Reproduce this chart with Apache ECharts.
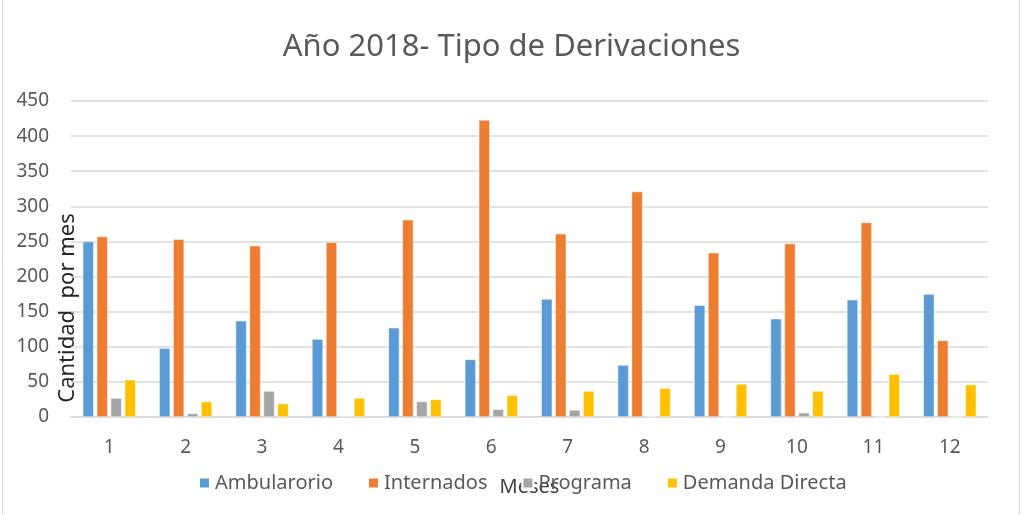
<!DOCTYPE html>
<html>
<head>
<meta charset="utf-8">
<script src="https://cdn.jsdelivr.net/npm/echarts@6/dist/echarts.min.js"></script>
<style>
html,body{margin:0;padding:0;background:#fff;}
#chart{width:1023px;height:515px;}
</style>
</head>
<body>
<div id="chart"></div>
<script>
// datos
var meses = ['1','2','3','4','5','6','7','8','9','10','11','12'];
var ambulatorio = [250, 98, 137, 111, 127, 82, 168, 74, 159, 140, 167, 175];
var internados = [257, 253, 244, 249, 281, 423, 261, 321, 234, 247, 277, 109];
var programa = [27, 5, 37, 1, 22, 11, 10, 1, 0, 6, 0, 0];
var demanda = [53, 22, 19, 27, 25, 31, 37, 41, 47, 37, 61, 46];
var nombres = ['Ambularorio', 'Internados', 'Programa', 'Demanda Directa'];

var myChart = echarts.init(document.getElementById('chart'));
var colors = ['#5b9bd5', '#ed7d31', '#a5a5a5', '#ffc000'];
var fuente = 'Noto Sans';

function serie(nombre, datos){
	return {
		name: nombre,
		type: 'bar',
		data: datos,
		barWidth: 11,
		barGap: '27%',
		itemStyle: {borderColor: '#fff', borderWidth: 0.5}
	};
}

option = {
	color: colors,
	animation: false,
	textStyle: {fontFamily: fuente},
	title: {
		text: 'Año 2018- Tipo de Derivaciones',
		left: 'center',
		top: 27,
		textStyle: {fontFamily: fuente, fontSize: 31, fontWeight: 'normal', color: '#595959'}
	},
	legend: {
		data: nombres,
		left: 193,
		top: 468,
		itemWidth: 11,
		itemHeight: 11,
		itemGap: 34,
		icon: 'rect',
		textStyle: {fontFamily: fuente, fontSize: 20, color: '#595959'}
	},
	grid: {left: 71, right: 35, top: 101, bottom: 98},
	xAxis: {
		type: 'category',
		data: meses,
		name: 'Meses',
		nameLocation: 'middle',
		nameGap: 60,
		nameTextStyle: {fontFamily: fuente, fontSize: 20, color: '#404040'},
		axisLine: {lineStyle: {color: '#d9d9d9', width: 1.5}},
		axisTick: {show: false},
		axisLabel: {fontSize: 19, color: '#595959', margin: 21}
	},
	yAxis: {
		type: 'value',
		min: 0,
		max: 450,
		interval: 50,
		axisLine: {show: false},
		axisTick: {show: false},
		splitLine: {lineStyle: {color: '#d9d9d9', width: 1.5}},
		axisLabel: {fontSize: 19, color: '#595959', margin: 22}
	},
	graphic: [
		{
			type: 'rect',
			shape: {x: 2.5, y: -2, width: 1017, height: 519},
			style: {fill: 'none', stroke: '#d9d9d9', lineWidth: 1},
			silent: true
		},
		{
			type: 'text',
			x: 68,
			y: 308,
			rotation: Math.PI / 2,
			style: {
				text: 'Cantidad  por mes',
				fontFamily: fuente,
				fontSize: 22,
				fill: '#262626',
				align: 'center',
				verticalAlign: 'middle'
			}
		}
	],
	series: [
		serie(nombres[0], ambulatorio),
		serie(nombres[1], internados),
		serie(nombres[2], programa),
		serie(nombres[3], demanda)
	]
};
myChart.setOption(option);
</script>
</body>
</html>
